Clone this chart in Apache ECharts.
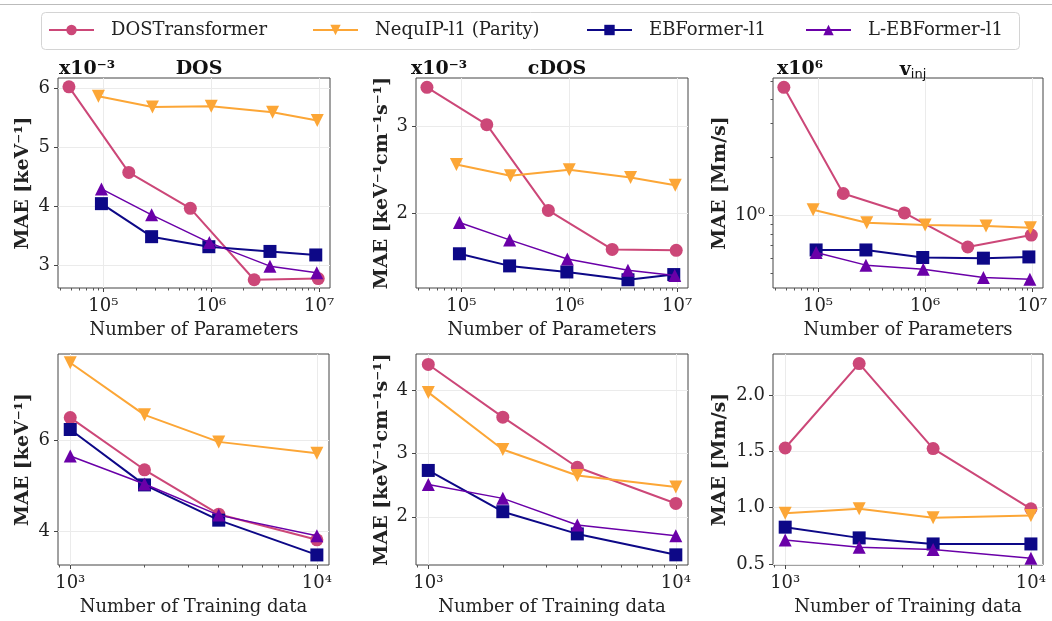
<!DOCTYPE html>
<html>
<head>
<meta charset="utf-8">
<script src="https://cdn.jsdelivr.net/npm/echarts@6/dist/echarts.min.js"></script>
<style>
  html, body { margin: 0; padding: 0; background: #fff; }
  #chart { width: 1052px; height: 621px; }
</style>
</head>
<body>
<div id="chart"></div>
<script>
// model sizes (number of parameters) and training set sizes
const paramsDOST = [4.8e4, 1.72e5, 6.4e5, 2.5e6, 9.8e6]
const paramsNequIP = [9.0e4, 2.85e5, 1.0e6, 3.7e6, 9.6e6]
const paramsEB = [9.6e4, 2.8e5, 9.5e5, 3.5e6, 9.3e6]
const paramsLEB = [9.6e4, 2.8e5, 9.6e5, 3.5e6, 9.5e6]
const trainSizes = [1000, 2000, 4000, 10000]

// DOS MAE vs params (x1e-3)
const dosParamDOST = [6.02, 4.57, 3.96, 2.75, 2.77]
const dosParamNequIP = [5.86, 5.68, 5.69, 5.59, 5.45]
const dosParamEB = [4.04, 3.48, 3.31, 3.23, 3.17]
const dosParamLEB = [4.29, 3.85, 3.38, 2.98, 2.87]

// cDOS MAE vs params (x1e-3)
const cdosParamDOST = [3.45, 3.02, 2.03, 1.58, 1.57]
const cdosParamNequIP = [2.56, 2.43, 2.50, 2.41, 2.32]
const cdosParamEB = [1.53, 1.39, 1.32, 1.23, 1.29]
const cdosParamLEB = [1.89, 1.69, 1.47, 1.34, 1.28]

// v_inj MAE vs params
const vinjParamDOST = [4.64, 1.30, 1.03, 0.685, 0.79]
const vinjParamNequIP = [1.07, 0.916, 0.891, 0.88, 0.863]
const vinjParamEB = [0.661, 0.661, 0.604, 0.599, 0.608]
const vinjParamLEB = [0.641, 0.551, 0.525, 0.475, 0.466]

// MAE vs training data
const dosTrainDOST = [6.49, 5.35, 4.38, 3.82]
const dosTrainNequIP = [7.69, 6.55, 5.96, 5.71]
const dosTrainEB = [6.23, 5.02, 4.25, 3.49]
const dosTrainLEB = [5.65, 5.04, 4.36, 3.91]

const cdosTrainDOST = [4.40, 3.57, 2.78, 2.21]
const cdosTrainNequIP = [3.96, 3.06, 2.65, 2.47]
const cdosTrainEB = [2.73, 2.08, 1.73, 1.40]
const cdosTrainLEB = [2.51, 2.29, 1.87, 1.70]

const vinjTrainDOST = [1.53, 2.28, 1.525, 0.99]
const vinjTrainNequIP = [0.95, 0.99, 0.91, 0.93]
const vinjTrainEB = [0.827, 0.732, 0.678, 0.678]
const vinjTrainLEB = [0.714, 0.649, 0.628, 0.55]

// tick values
const paramTicks = [1e5, 1e6, 1e7]
const paramMinor = [4e4, 5e4, 6e4, 7e4, 8e4, 9e4, 2e5, 3e5, 4e5, 5e5, 6e5, 7e5, 8e5, 9e5,
  2e6, 3e6, 4e6, 5e6, 6e6, 7e6, 8e6, 9e6]
const trainTicks = [1e3, 1e4]
const trainMinor = [900, 2000, 3000, 4000, 5000, 6000, 7000, 8000, 9000]
const dosParamTicks = [3, 4, 5, 6]
const cdosParamTicks = [2, 3]
const vinjParamTicks = [1]
const vinjParamMinor = [0.5, 0.6, 0.7, 0.8, 0.9, 2, 3, 4, 5]
const dosTrainTicks = [4, 6]
const cdosTrainTicks = [2, 3, 4]
const vinjTrainTicks = [0.5, 1.0, 1.5, 2.0]

const FONT = 'DejaVu Serif'
const models = [
  { name: 'DOSTransformer', color: '#cc4778', symbol: 'circle', rotate: 0, width: 2 },
  { name: 'NequIP-l1 (Parity)', color: '#fca636', symbol: 'triangle', rotate: 180, width: 2 },
  { name: 'EBFormer-l1', color: '#0d0887', symbol: 'rect', rotate: 0, width: 2 },
  { name: 'L-EBFormer-l1', color: '#6a00a8', symbol: 'triangle', rotate: 0, width: 1.5 }
]

const supMap = { '0': '⁰', '1': '¹', '2': '²', '3': '³', '4': '⁴', '5': '⁵', '6': '⁶', '7': '⁷', '8': '⁸', '9': '⁹', '-': '⁻' }
const pow10 = v => '10' + String(Math.round(Math.log10(v))).split('').map(c => supMap[c]).join('')

const grids = [
  { left: 58, top: 78, width: 272, height: 210 },
  { left: 416, top: 78, width: 272, height: 210 },
  { left: 773, top: 78, width: 270, height: 210 },
  { left: 58, top: 354, width: 271, height: 211 },
  { left: 416, top: 354, width: 272, height: 211 },
  { left: 773, top: 354, width: 270, height: 211 }
].map(g => Object.assign(g, { show: true, borderColor: '#444', borderWidth: 1, containLabel: false }))

const xAxis = []
const yAxis = []
const series = []

const labelStyle = { fontFamily: FONT, fontSize: 18, color: '#222' }

function addX (gi, min, max, major, minor, name) {
  xAxis.push({
    type: 'log', gridIndex: gi, min: min, max: max, position: 'bottom',
    name: name, nameLocation: 'middle', nameGap: 33,
    nameTextStyle: { fontFamily: FONT, fontSize: 18, color: '#222' },
    axisLine: { show: false },
    axisTick: { show: true, length: 4, customValues: major, lineStyle: { color: '#444' } },
    axisLabel: Object.assign({ customValues: major, margin: 9, formatter: pow10 }, labelStyle),
    splitLine: { show: true, lineStyle: { color: '#ebebeb' } }
  })
  const idx = xAxis.length - 1
  xAxis.push({
    type: 'log', gridIndex: gi, min: min, max: max, position: 'bottom', offset: 0,
    axisLine: { show: false },
    axisTick: { show: true, length: 2.5, customValues: minor, lineStyle: { color: '#555' } },
    axisLabel: { show: false },
    splitLine: { show: false }
  })
  return idx
}

function addY (gi, min, max, major, name, gap, opts) {
  const log = opts && opts.log
  yAxis.push({
    type: log ? 'log' : 'value', gridIndex: gi, min: min, max: max, position: 'left',
    name: name, nameLocation: 'middle', nameGap: gap, nameRotate: 90,
    nameTextStyle: { fontFamily: FONT, fontSize: 19, fontWeight: 'bold', color: '#222' },
    axisLine: { show: false },
    axisTick: { show: true, length: 4, customValues: major, lineStyle: { color: '#444' } },
    axisLabel: Object.assign({ customValues: major, margin: 8,
      formatter: (opts && opts.fmt) || (v => String(v)) }, labelStyle),
    splitLine: { show: true, lineStyle: { color: '#ebebeb' } }
  })
  const idx = yAxis.length - 1
  if (opts && opts.minor) {
    yAxis.push({
      type: 'log', gridIndex: gi, min: min, max: max, position: 'left', offset: 0,
      axisLine: { show: false },
      axisTick: { show: true, length: 2.5, customValues: opts.minor, lineStyle: { color: '#555' } },
      axisLabel: { show: false },
      splitLine: { show: false }
    })
  }
  return idx
}

function addSeries (xi, yi, xsList, ysList) {
  models.forEach((m, k) => {
    series.push({
      name: m.name, type: 'line', xAxisIndex: xi, yAxisIndex: yi,
      data: xsList[k].map((x, j) => [x, ysList[k][j]]),
      symbol: m.symbol, symbolRotate: m.rotate, symbolSize: 13,
      lineStyle: { color: m.color, width: m.width },
      itemStyle: { color: m.color },
      z: 2 + k
    })
  })
}

const pMin = 3.8e4
const pMax = 1.26e7
const tMin = 892
const tMax = 11200
const allParams = [paramsDOST, paramsNequIP, paramsEB, paramsLEB]
const allTrain = [trainSizes, trainSizes, trainSizes, trainSizes]

let xi, yi
xi = addX(0, pMin, pMax, paramTicks, paramMinor, 'Number of Parameters')
yi = addY(0, 2.61, 6.17, dosParamTicks, 'MAE [keV⁻¹]', 25)
addSeries(xi, yi, allParams, [dosParamDOST, dosParamNequIP, dosParamEB, dosParamLEB])

xi = addX(1, pMin, pMax, paramTicks, paramMinor, 'Number of Parameters')
yi = addY(1, 1.135, 3.558, cdosParamTicks, 'MAE [keV⁻¹cm⁻¹s⁻¹]', 24)
addSeries(xi, yi, allParams, [cdosParamDOST, cdosParamNequIP, cdosParamEB, cdosParamLEB])

xi = addX(2, pMin, pMax, paramTicks, paramMinor, 'Number of Parameters')
yi = addY(2, 0.419, 5.19, vinjParamTicks, 'MAE [Mm/s]', 43, { log: true, fmt: pow10, minor: vinjParamMinor })
addSeries(xi, yi, allParams, [vinjParamDOST, vinjParamNequIP, vinjParamEB, vinjParamLEB])

xi = addX(3, tMin, tMax, trainTicks, trainMinor, 'Number of Training data')
yi = addY(3, 3.27, 7.88, dosTrainTicks, 'MAE [keV⁻¹]', 25)
addSeries(xi, yi, allTrain, [dosTrainDOST, dosTrainNequIP, dosTrainEB, dosTrainLEB])

xi = addX(4, tMin, tMax, trainTicks, trainMinor, 'Number of Training data')
yi = addY(4, 1.24, 4.565, cdosTrainTicks, 'MAE [keV⁻¹cm⁻¹s⁻¹]', 24)
addSeries(xi, yi, allTrain, [cdosTrainDOST, cdosTrainNequIP, cdosTrainEB, cdosTrainLEB])

xi = addX(5, tMin, tMax, trainTicks, trainMinor, 'Number of Training data')
yi = addY(5, 0.491, 2.365, vinjTrainTicks, 'MAE [Mm/s]', 43, { fmt: v => v.toFixed(1) })
addSeries(xi, yi, allTrain, [vinjTrainDOST, vinjTrainNequIP, vinjTrainEB, vinjTrainLEB])

// panel titles and scale factors
const boldText = { fontFamily: FONT, fontSize: 19, fontWeight: 'bold', color: '#111' }
const title = [
  { text: 'x10⁻³', left: 54, top: 55, textStyle: boldText },
  { text: 'DOS', left: 194, top: 55, textAlign: 'center', textStyle: boldText },
  { text: 'x10⁻³', left: 406, top: 55, textStyle: boldText },
  { text: 'cDOS', left: 552, top: 55, textAlign: 'center', textStyle: boldText },
  { text: 'x10⁶', left: 772, top: 55, textStyle: boldText },
  {
    text: '{v|v}{s|inj}', left: 908, top: 55, textAlign: 'center',
    textStyle: {
      rich: {
        v: boldText,
        s: { fontFamily: 'DejaVu Sans', fontSize: 13, fontWeight: 'normal', color: '#111', padding: [8, 0, 0, 0] }
      }
    }
  }
]

// one legend per entry so each sits where the reference puts it
const legendLeft = [48, 312, 586, 805]
const legend = models.map((m, k) => ({
  data: [m.name], left: legendLeft[k], top: 21, padding: 0,
  itemWidth: 45, itemHeight: 13,
  textStyle: { fontFamily: FONT, fontSize: 18, color: '#222', padding: [0, 0, 0, 12] }
}))

const chart = echarts.init(document.getElementById('chart'))
chart.setOption({
  animation: false,
  backgroundColor: '#fff',
  title: title,
  legend: legend,
  grid: grids,
  xAxis: xAxis,
  yAxis: yAxis,
  series: series,
  graphic: [
    { type: 'line', shape: { x1: 0, y1: 4.5, x2: 1052, y2: 4.5 }, style: { stroke: '#bbb', lineWidth: 1 }, z: -1 },
    { type: 'rect', shape: { x: 41.5, y: 12.5, width: 978, height: 37, r: 4 }, style: { fill: '#fff', stroke: '#d4d4d4', lineWidth: 1 }, z: -1 }
  ]
})
</script>
</body>
</html>
